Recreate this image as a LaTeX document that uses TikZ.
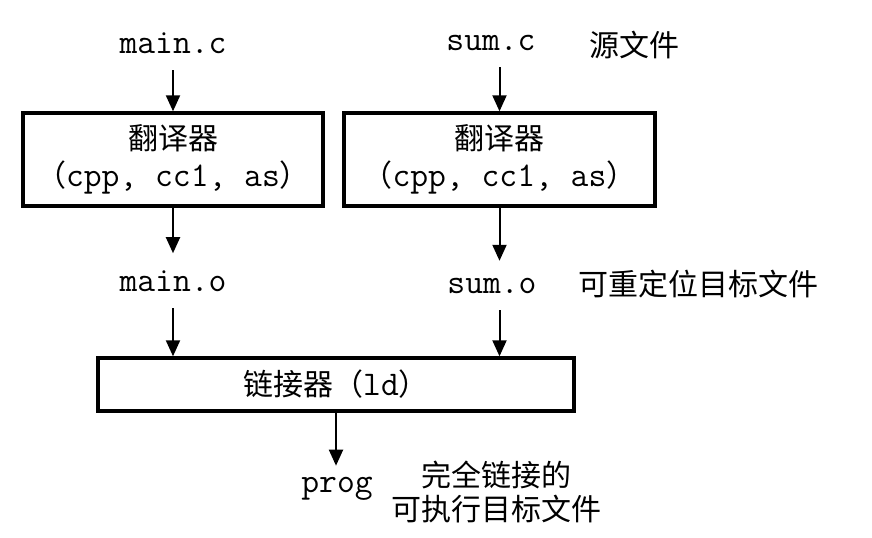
\documentclass[tikz,border=0pt]{standalone}
\usepackage{fontspec}
\newfontfamily\cjk{Noto Sans CJK SC}
\usetikzlibrary{arrows.meta}
\newcommand{\code}[1]{{\fontsize{17.3}{17.5}\selectfont\ttfamily #1}}

\begin{document}
\begin{tikzpicture}[x=0.5pt,y=-0.5pt,>={Triangle[width=7pt,length=8pt]},line width=1pt,
  file/.style={font=\fontsize{17.3}{20}\selectfont\ttfamily,anchor=base,inner sep=8pt},
  note/.style={font=\fontsize{15}{17}\selectfont\cjk,align=center,inner sep=0pt},
  tool/.style={draw,line width=1.7pt,align=center,inner sep=0pt,font=\fontsize{15}{18.5}\selectfont\cjk}]
	\useasboundingbox[fill=white] (0,0) rectangle (872,537);
	\node[file] (mainc) at (173,53) {main.c};
	\node[file] (sumc) at (491,50) {sum.c};
	\node[note] (srcnote) at (634,45) {源文件};
	
	\node[tool,minimum width=150pt,minimum height=46.5pt] (trans1) at (173,159.5) {翻译器\\（\code{cpp, cc1, as}）};
	\node[tool,minimum width=155.5pt,minimum height=46.5pt] (trans2) at (499.5,159.5) {翻译器\\（\code{cpp, cc1, as}）};
	
	\node[file] (maino) at (173,291) {main.o};
	\node[file] (sumo) at (492,293) {sum.o};
	\node[note] (objnote) at (698,284) {可重定位目标文件};
	
	\node[tool,minimum width=238pt,minimum height=26.5pt] (link) at (336,384.5) {链接器（\code{ld}）};
	
	\node[file,inner sep=5pt] (prog) at (337,492) {prog};
	\node[note] (exenote) at (496,492) {完全链接的\\可执行目标文件};
	
	\path[->]
		(trans1.north |- mainc.south) edge (trans1.north)
		(trans2.north |- sumc.south) edge (trans2.north)
		(trans1.south) edge (trans1.south |- maino.north)
		(trans2.south) edge (trans2.south |- sumo.north)
		(trans1.south |- maino.south) edge (trans1.south |- link.north)
		(trans2.south |- sumo.south) edge (trans2.south |- link.north)
		(link.south) edge (link.south |- prog.north);
\end{tikzpicture}
\end{document}
